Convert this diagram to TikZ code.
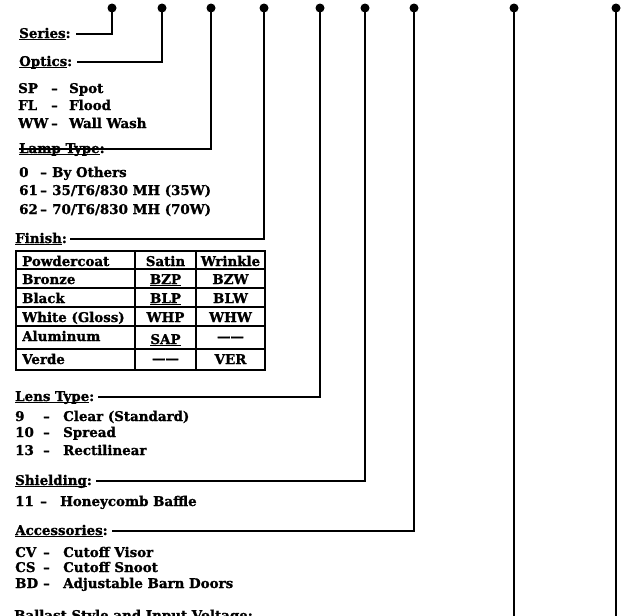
\documentclass[tikz,border=0pt]{standalone}
\usepackage{fontspec}
\setmainfont{DejaVu Serif}[BoldFeatures={FakeBold=1.2}]
\newcommand\myul[1]{\setbox0\hbox{#1}\rlap{\rule[-2.4pt]{\wd0}{1.3pt}}\box0}
\newcommand\itm[4]{\makebox[#1][l]{#2}\makebox[#3][l]{–}#4}
\begin{document}
\begin{tikzpicture}[x=1pt,y=-1pt,
  txt/.style={anchor=base west, inner sep=0pt, text height=8pt, text depth=0pt, font=\bfseries\fontsize{13.4}{15}\selectfont},
  cell/.style={anchor=base, inner sep=0pt, font=\bfseries\fontsize{13.4}{15}\selectfont},
  cellw/.style={cell, anchor=base west},
  pin/.style={circle, fill=black, inner sep=0pt, minimum size=9pt},
  conn/.style={line width=1.6pt},
  grid/.style={line width=1.5pt}]
\useasboundingbox (0,0) rectangle (633,616);
\clip (0,0) rectangle (633,616);
% pins
\foreach \n/\x in {1/112,2/162,3/211,4/264,5/320,6/365,7/414,8/514,9/616}
  \node[pin] (d\n) at (\x,8) {};
% labels
\node[txt] (ser) at (19,38) {\myul{Series}:};
\node[txt] (opt) at (19,66) {\myul{Optics}:};
\node[txt] (sp) at (18,93) {\itm{33pt}{SP}{18pt}{Spot}};
\node[txt] (fl) at (18,110) {\itm{33pt}{FL}{18pt}{Flood}};
\node[txt] (ww) at (18,128) {\itm{33pt}{WW}{18pt}{Wall Wash}};
\node[txt] (lamp) at (19,153) {\myul{Lamp Type}:};
\node[txt] (l0) at (19,177) {\itm{21pt}{0}{12pt}{By Others}};
\node[txt] (l61) at (19,195) {\itm{21pt}{61}{12pt}{35/T6/830 MH (35W)}};
\node[txt] (l62) at (19,214) {\itm{21pt}{62}{12pt}{70/T6/830 MH (70W)}};
\node[txt] (fin) at (15,243) {\myul{Finish}:};
% table
\draw[line width=2pt] (16,251) rectangle (265,370);
\foreach \y in {269,288,307,326,349} \draw[grid] (16,\y) -- (265,\y);
\foreach \x in {135,196} \draw[grid] (\x,251) -- (\x,370);
\node[cellw] (t11) at (22,266) {Powdercoat};
\node[cell] (t12) at (165.5,266) {Satin};
\node[cell] (t13) at (230.5,266) {Wrinkle};
\node[cellw] (t21) at (22,284) {Bronze};
\node[cell] (t22) at (165.5,284) {\myul{BZP}};
\node[cell] (t23) at (230.5,284) {BZW};
\node[cellw] (t31) at (22,303) {Black};
\node[cell] (t32) at (165.5,303) {\myul{BLP}};
\node[cell] (t33) at (230.5,303) {BLW};
\node[cellw] (t41) at (22,322) {White (Gloss)};
\node[cell] (t42) at (165.5,322) {WHP};
\node[cell] (t43) at (230.5,322) {WHW};
\node[cellw] (t51) at (22,341) {Aluminum};
\node[cell] (t52) at (165.5,344) {\myul{SAP}};
\node[cell] (t53) at (230.5,341) {——};
\node[cellw] (t61) at (22,364) {Verde};
\node[cell] (t62) at (165.5,363) {——};
\node[cell] (t63) at (230.5,364) {VER};
% lower labels
\node[txt] (lens) at (15,401) {\myul{Lens Type}:};
\node[txt] (c9) at (15,421) {\itm{28pt}{9}{20pt}{Clear (Standard)}};
\node[txt] (c10) at (15,437) {\itm{28pt}{10}{20pt}{Spread}};
\node[txt] (c13) at (15,455) {\itm{28pt}{13}{20pt}{Rectilinear}};
\node[txt] (shd) at (15,485) {\myul{Shielding}:};
\node[txt] (s11) at (15,506) {\itm{25pt}{11}{20pt}{Honeycomb Baffle}};
\node[txt] (acc) at (15,535) {\myul{Accessories}:};
\node[txt] (cv) at (15,557) {\itm{28pt}{CV}{20pt}{Cutoff Visor}};
\node[txt] (cs) at (15,572) {\itm{28pt}{CS}{20pt}{Cutoff Snoot}};
\node[txt] (bd) at (15,588) {\itm{28pt}{BD}{20pt}{Adjustable Barn Doors}};
\node[txt] (bal) at (14,620) {\myul{Ballast Style and Input Voltage}:};
% connectors
\draw[conn] (d1.center) |- ([xshift=5pt]ser.east);
\draw[conn] (d2.center) |- ([xshift=5pt]opt.east);
\draw[conn] (d3.center) |- (lamp.west);
\draw[conn] (d4.center) |- ([xshift=3pt]fin.east);
\draw[conn] (d5.center) |- ([xshift=4pt]lens.east);
\draw[conn] (d6.center) |- ([xshift=4pt]shd.east);
\draw[conn] (d7.center) |- ([xshift=4pt]acc.east);
\coordinate (e8) at (514,630);
\coordinate (e9) at (616,630);
\draw[conn] (d8.center) -- (e8);
\draw[conn] (d9.center) -- (e9);
\end{tikzpicture}
\end{document}
